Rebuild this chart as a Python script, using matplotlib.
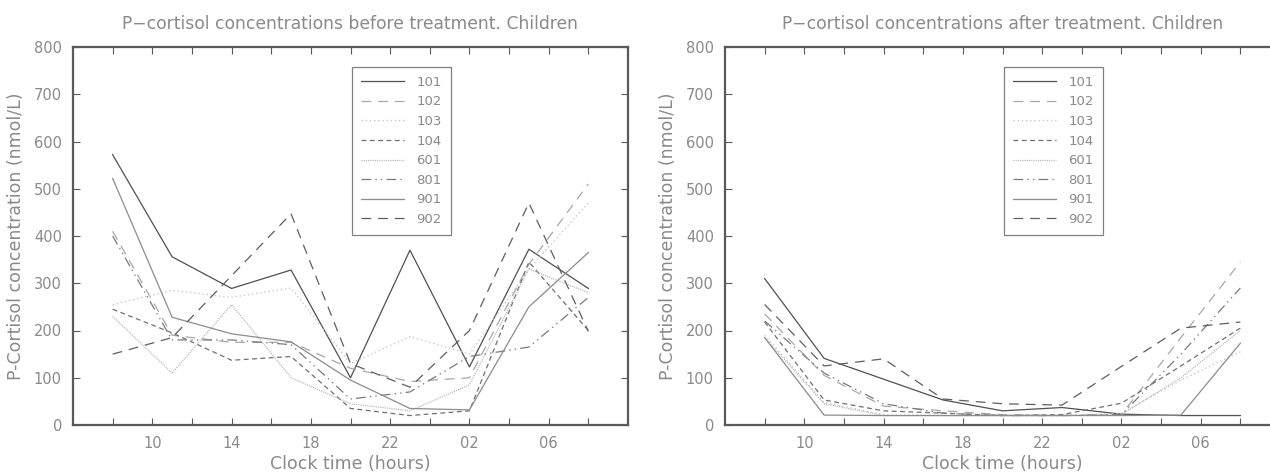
import matplotlib
matplotlib.use('Agg')
import matplotlib.pyplot as plt

# sampling clock times, hours counted from midnight of day 1 (26 = 02, 30 = 06)
hours = [8, 11, 14, 17, 20, 23, 26, 29, 32]
patients = ['101', '102', '103', '104', '601', '801', '901', '902']

xticks = [10, 14, 18, 22, 26, 30]
xtick_labels = ['10', '14', '18', '22', '02', '06']

# P-cortisol (nmol/L) before treatment
pre_101 = [572, 356, 289, 328, 100, 370, 123, 372, 289]
pre_102 = [410, 190, 175, 175, 120, 92, 100, 340, 510]
pre_103 = [255, 285, 270, 290, 130, 187, 150, 330, 470]
pre_104 = [245, 195, 137, 145, 35, 20, 30, 345, 200]
pre_601 = [230, 110, 255, 100, 45, 30, 85, 330, 280]
pre_801 = [400, 180, 180, 170, 55, 70, 145, 165, 270]
pre_901 = [522, 228, 193, 176, 95, 35, 32, 250, 365]
pre_902 = [150, 185, 316, 447, 130, 80, 200, 470, 198]

# P-cortisol (nmol/L) after treatment
post_101 = [310, 141, 97, 53, 30, 37, 23, 20, 20]
post_102 = [235, 105, 40, 30, 22, 20, 22, 185, 345]
post_103 = [190, 48, 22, 20, 20, 20, 25, 95, 155]
post_104 = [218, 53, 30, 25, 20, 22, 46, 125, 205]
post_601 = [185, 45, 20, 20, 20, 20, 22, 100, 200]
post_801 = [220, 110, 45, 25, 20, 20, 22, 150, 290]
post_901 = [185, 21, 20, 20, 20, 20, 20, 21, 173]
post_902 = [255, 125, 140, 55, 45, 42, 124, 205, 218]

pre = [pre_101, pre_102, pre_103, pre_104, pre_601, pre_801, pre_901, pre_902]
post = [post_101, post_102, post_103, post_104, post_601, post_801, post_901, post_902]

STYLES = {
    '101': dict(color='#505050', linestyle='-'),
    '102': dict(color='#a8a8a8', linestyle=(0, (7, 5))),
    '103': dict(color='#c4c4c4', linestyle=(0, (1, 2))),
    '104': dict(color='#707070', linestyle=(0, (3.5, 2.5))),
    '601': dict(color='#b4b4b4', linestyle=(0, (0.8, 0.8))),
    '801': dict(color='#7a7a7a', linestyle=(0, (7, 3, 1, 3, 1, 3))),
    '901': dict(color='#8c8c8c', linestyle='-'),
    '902': dict(color='#5e5e5e', linestyle=(0, (7, 5))),
}

TEXT = '#8a8a8a'
FRAME = '#5a5a5a'

plt.rcParams['lines.scale_dashes'] = False
plt.rcParams['font.family'] = ['DejaVu Sans']

fig = plt.figure(figsize=(12.7, 4.72), dpi=100)
ax_pre = fig.add_axes([73 / 1270, 47 / 472, 555 / 1270, 378 / 472])
ax_post = fig.add_axes([725 / 1270, 47 / 472, 555 / 1270, 378 / 472])


def draw_panel(ax, series, title):
    for pid, values in zip(patients, series):
        ax.plot(hours, values, lw=0.9, label=pid, **STYLES[pid])

    ax.set_xlim(6, 34)
    ax.set_ylim(0, 800)
    ax.set_xticks(xticks)
    ax.set_xticklabels(xtick_labels)
    ax.set_xticks([8, 12, 16, 20, 24, 28, 32], minor=True)
    ax.set_yticks(range(0, 801, 100))

    ax.tick_params(which='both', direction='in', top=True, right=True,
                   length=5, width=0.8, color=FRAME, labelcolor=TEXT,
                   labelsize=10.5, pad=8)
    for sp in ax.spines.values():
        sp.set_linewidth(1.6)
        sp.set_color(FRAME)

    ax.set_title(title, color=TEXT, fontsize=12.3, pad=13)
    ax.set_xlabel('Clock time (hours)', color=TEXT, fontsize=12.5, labelpad=3)
    ax.set_ylabel('P-Cortisol concentration (nmol/L)', color=TEXT,
                  fontsize=12.5, labelpad=6)

    leg = ax.legend(loc='upper left', bbox_to_anchor=(0.502, 0.948),
                    borderaxespad=0, fontsize=9.5, handlelength=3.3,
                    handletextpad=0.9, labelspacing=0.5, borderpad=0.7,
                    fancybox=False, framealpha=1, edgecolor='#808080')
    leg.get_frame().set_linewidth(0.9)
    for t in leg.get_texts():
        t.set_color(TEXT)


draw_panel(ax_pre, pre, 'P\u2212cortisol concentrations before treatment. Children')
draw_panel(ax_post, post, 'P\u2212cortisol concentrations after treatment. Children')

fig.savefig('out.png', dpi=100)
